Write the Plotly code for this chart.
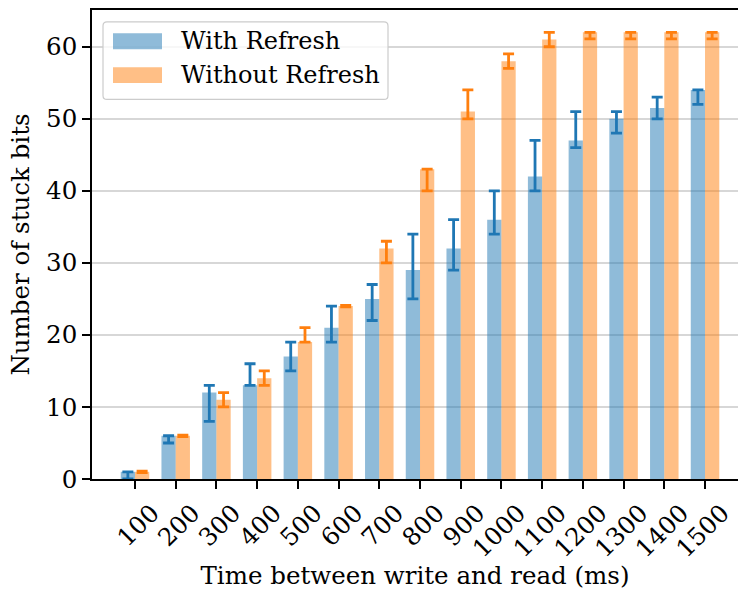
import plotly.graph_objects as go

categories = ["100", "200", "300", "400", "500", "600", "700", "800",
              "900", "1000", "1100", "1200", "1300", "1400", "1500"]

with_refresh = [1, 6, 12, 13, 17, 21, 25, 29, 32, 36, 42, 47, 50, 51.5, 54]
with_refresh_plus = [0, 0, 1, 3, 2, 3, 2, 5, 4, 4, 5, 4, 1, 1.5, 0]
with_refresh_minus = [1, 1, 4, 0, 2, 2, 3, 4, 3, 2, 2, 1, 2, 1.5, 2]

without_refresh = [1, 6, 11, 14, 19, 24, 32, 43, 51, 58, 61, 62, 62, 62, 62]
without_refresh_plus = [0.1, 0.1, 1, 1, 2, 0.1, 1, 0, 3, 1, 1, 0, 0, 0, 0]
without_refresh_minus = [0.1, 0.1, 1, 1, 0, 0.1, 2, 3, 1, 1, 1, 0.9, 0.9, 0.9, 0.9]

series_names = ["With Refresh", "Without Refresh"]

FONT = "DejaVu Serif"
FS = 24.5
BLUE = "#1f77b4"
ORANGE = "#ff7f0e"

fig = go.Figure()
fig.add_trace(go.Bar(
    x=categories, y=with_refresh, name=series_names[0],
    marker=dict(color="rgba(31,119,180,0.5)", line=dict(width=0)),
    error_y=dict(type="data", symmetric=False, array=with_refresh_plus,
                 arrayminus=with_refresh_minus, color=BLUE, thickness=2.8, width=5.5),
    showlegend=False,
))
fig.add_trace(go.Bar(
    x=categories, y=without_refresh, name=series_names[1],
    marker=dict(color="rgba(255,127,14,0.5)", line=dict(width=0)),
    error_y=dict(type="data", symmetric=False, array=without_refresh_plus,
                 arrayminus=without_refresh_minus, color=ORANGE, thickness=2.8, width=5.5),
    showlegend=False,
))

# manual legend (matplotlib style)
lx0, ly0, lx1, ly1 = 103, 22, 388, 100  # pixels
W, H = 738, 590
ml, mr, mt, mb = 92, 0, 10, 108
pw, ph = W - ml - mr, H - mt - mb

def px(x):
    return (x - ml) / pw

def py(y):
    return 1 - (y - mt) / ph

shapes = [
    dict(type="path", xref="paper", yref="paper",
         path=(f"M {px(lx0+4)},{py(ly0)} L {px(lx1-4)},{py(ly0)} "
               f"Q {px(lx1)},{py(ly0)} {px(lx1)},{py(ly0+4)} "
               f"L {px(lx1)},{py(ly1-4)} Q {px(lx1)},{py(ly1)} {px(lx1-4)},{py(ly1)} "
               f"L {px(lx0+4)},{py(ly1)} Q {px(lx0)},{py(ly1)} {px(lx0)},{py(ly1-4)} "
               f"L {px(lx0)},{py(ly0+4)} Q {px(lx0)},{py(ly0)} {px(lx0+4)},{py(ly0)} Z"),
         fillcolor="rgba(255,255,255,0.8)", line=dict(color="#cccccc", width=1.2),
         layer="above"),
    dict(type="rect", xref="paper", yref="paper",
         x0=px(113), x1=px(162), y0=py(33.5), y1=py(49.5),
         fillcolor="rgba(31,119,180,0.5)", line=dict(width=0), layer="above"),
    dict(type="rect", xref="paper", yref="paper",
         x0=px(113), x1=px(162), y0=py(67.5), y1=py(83.5),
         fillcolor="rgba(255,127,14,0.5)", line=dict(width=0), layer="above"),
]
annotations = [
    dict(text=series_names[0], xref="paper", yref="paper", x=px(179), y=py(41.5),
         xanchor="left", yanchor="middle", showarrow=False,
         font=dict(family=FONT, size=24, color="black")),
    dict(text=series_names[1], xref="paper", yref="paper", x=px(179), y=py(75.5),
         xanchor="left", yanchor="middle", showarrow=False,
         font=dict(family=FONT, size=24, color="black")),
]

fig.update_layout(
    width=W, height=H,
    margin=dict(l=ml, r=mr, t=mt, b=mb),
    paper_bgcolor="white", plot_bgcolor="white",
    barmode="group", bargap=0.3, bargroupgap=0,
    font=dict(family=FONT, size=FS, color="black"),
    shapes=shapes, annotations=annotations,
    xaxis=dict(
        type="category", range=[-1.056, 14.81],
        showline=True, linecolor="black", linewidth=1.6, mirror=True,
        ticks="outside", ticklen=8, tickwidth=1.6, tickcolor="black",
        tickangle=-45, ticklabelshift=17, showgrid=False,
        tickfont=dict(family=FONT, size=FS),
        title=dict(text="Time between write and read (ms)", standoff=10,
                   font=dict(family=FONT, size=FS)),
    ),
    yaxis=dict(
        range=[0, 65.1], tickvals=[0, 10, 20, 30, 40, 50, 60],
        showline=True, linecolor="black", linewidth=1.6,
        ticks="outside", ticklen=8, tickwidth=1.6, tickcolor="black",
        showgrid=True, gridcolor="rgba(176,176,176,0.5)", gridwidth=1.6,
        zeroline=False,
        tickfont=dict(family=FONT, size=FS),
        title=dict(text="Number of stuck bits", standoff=10,
                   font=dict(family=FONT, size=FS)),
    ),
)

fig.write_html("out.html",
               config={"displayModeBar": False},
               post_script="document.body.style.margin='0px';document.body.style.overflow='hidden';")
